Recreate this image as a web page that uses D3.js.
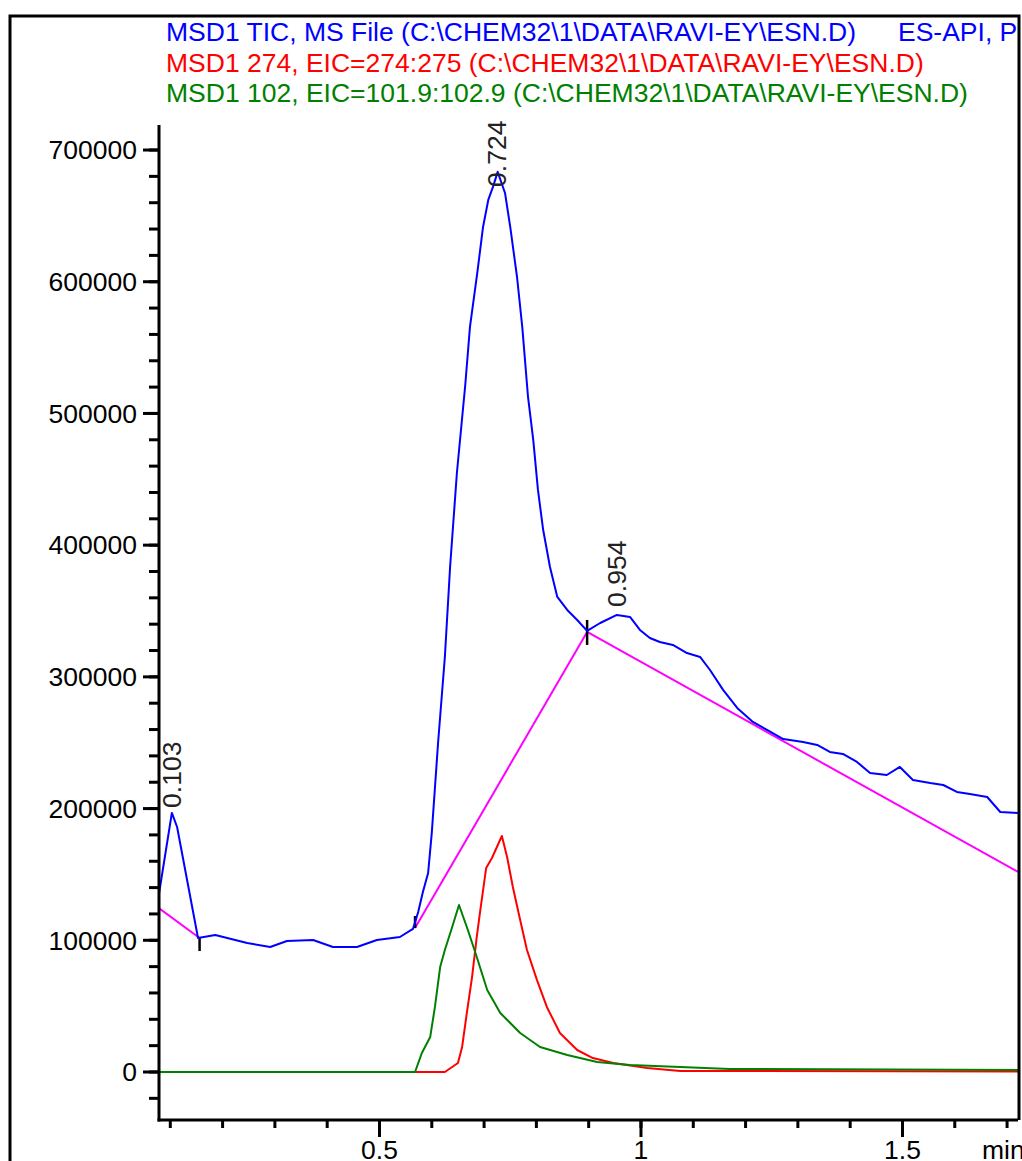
<!DOCTYPE html>
<html>
<head>
<meta charset="utf-8">
<script src="https://cdn.jsdelivr.net/npm/d3@7"></script>
<style>
  body { margin: 0; background: #fff; }
  svg { display: block; }
  text { font-family: "Liberation Sans", Arial, sans-serif; font-size: 26.5px; }
</style>
</head>
<body>
<script>
// traces: [time (min), abundance]
var tic = [[0.078,134400],[0.103,196700],[0.113,186000],[0.153,101700],[0.186,104000],[0.247,97900],
  [0.291,94900],[0.323,99500],[0.373,100200],[0.411,94900],[0.457,94900],[0.495,100200],[0.539,102500],
  [0.564,108600],[0.574,121500],[0.583,136700],[0.593,151100],[0.600,181500],[0.612,249800],[0.625,315100],
  [0.635,383400],[0.648,454800],[0.664,521600],[0.673,565700],[0.687,606700],[0.698,641600],[0.708,662100],
  [0.717,672000],[0.726,683400],[0.740,667400],[0.750,641600],[0.763,603600],[0.773,565700],[0.784,512500],
  [0.794,479900],[0.803,441900],[0.813,411500],[0.826,383400],[0.840,360700],[0.859,350800],[0.878,343200],
  [0.897,334900],[0.922,340900],[0.954,347000],[0.979,345500],[0.998,335600],[1.017,329500],[1.036,326500],
  [1.061,324200],[1.088,318100],[1.113,315100],[1.132,305200],[1.157,290100],[1.184,276400],[1.214,265800],
  [1.241,259700],[1.272,252800],[1.310,250600],[1.337,248300],[1.361,243000],[1.386,241500],[1.413,235400],
  [1.438,227000],[1.470,225500],[1.495,231600],[1.520,221700],[1.553,219400],[1.578,217900],[1.604,212600],
  [1.629,211100],[1.662,208800],[1.687,197400],[1.721,196700]];

var eic274 = [[0.078,0],[0.625,0],[0.650,6800],[0.658,19000],[0.667,44800],[0.677,72100],[0.686,102500],
  [0.692,120700],[0.704,154900],[0.715,162500],[0.734,179200],[0.744,163200],[0.755,140500],[0.769,115400],
  [0.782,92600],[0.801,69900],[0.820,49400],[0.845,29600],[0.878,16700],[0.908,10600],[0.947,6800],
  [1.012,3000],[1.075,800],[1.721,300]];

var eic102 = [[0.078,0],[0.568,0],[0.581,14400],[0.597,26600],[0.606,49400],[0.616,79700],[0.625,92600],
  [0.639,110100],[0.652,126800],[0.669,107800],[0.686,87300],[0.706,62300],[0.731,44800],[0.769,29600],
  [0.807,19000],[0.859,12900],[0.916,7600],[0.979,5300],[1.075,3800],[1.170,2300],[1.721,1500]];

// integration baselines, [start, end] as [time, abundance]
var baselines = [
  [[0.078,124500],[0.156,101700]],
  [[0.568,109300],[0.897,334100]],
  [[0.897,334100],[1.721,151900]]
];

// peak labels: retention time and the abundance where the label sits
var peakTimes = [0.103, 0.724, 0.954];
var peakLabelAt = [196700, 668200, 349300];

var titleLines = [
  "MSD1 TIC, MS File (C:\\CHEM32\\1\\DATA\\RAVI-EY\\ESN.D)",
  "MSD1 274, EIC=274:275 (C:\\CHEM32\\1\\DATA\\RAVI-EY\\ESN.D)",
  "MSD1 102, EIC=101.9:102.9 (C:\\CHEM32\\1\\DATA\\RAVI-EY\\ESN.D)"
];
var titleExtra = "ES-API, Pos, Scan, Frag: 70";
var titleColors = ["#0000ff", "#ff0000", "#008000"];

var yMajor = [0, 100000, 200000, 300000, 400000, 500000, 600000, 700000];
var yMinor = d3.range(-20000, 700001, 20000);
var xMajor = [0.5, 1, 1.5];
var xMinor = d3.range(1, 18).map(function(d){ return d / 10; });

var width = 1022, height = 1161;
var plotL = 159, plotR = 1018, plotT = 125, plotB = 1120;

var svg = d3.select("body").append("svg")
  .attr("width", width)
  .attr("height", height);

var x = d3.scaleLinear().domain([0.0784, 1.7209]).range([plotL, plotR]);
var y = d3.scaleLinear().domain([-36450, 719000]).range([plotB, plotT]);

svg.append("clipPath").attr("id", "plot")
  .append("rect").attr("x", plotL).attr("y", 0).attr("width", plotR - plotL).attr("height", plotB);

// titles
titleLines.forEach(function(t, i){
  svg.append("text")
    .attr("x", 166)
    .attr("y", 41 + i * 30.5)
    .attr("fill", titleColors[i])
    .text(t);
});
svg.append("g").attr("clip-path", "url(#plot)")
  .append("text")
  .attr("x", 898)
  .attr("y", 41)
  .attr("fill", titleColors[0])
  .text(titleExtra);

var line = d3.line()
  .x(function(d){ return x(d[0]); })
  .y(function(d){ return y(d[1]); });

var plot = svg.append("g").attr("clip-path", "url(#plot)");

plot.selectAll("path.base")
  .data(baselines)
  .enter()
  .append("path")
  .attr("class", "base")
  .attr("d", line)
  .attr("fill", "none")
  .attr("stroke", "#ff00ff")
  .attr("stroke-width", 2);

// baseline event ticks: start marks up, end marks down
plot.selectAll("line.start")
  .data(baselines.slice(1))
  .enter()
  .append("line")
  .attr("x1", function(d){ return x(d[0][0]); })
  .attr("x2", function(d){ return x(d[0][0]); })
  .attr("y1", function(d){ return y(d[0][1]); })
  .attr("y2", function(d){ return y(d[0][1]) - 12; })
  .attr("stroke", "#000")
  .attr("stroke-width", 2.5);

plot.selectAll("line.end")
  .data(baselines.slice(0, -1))
  .enter()
  .append("line")
  .attr("x1", function(d){ return x(d[1][0]); })
  .attr("x2", function(d){ return x(d[1][0]); })
  .attr("y1", function(d){ return y(d[1][1]); })
  .attr("y2", function(d){ return y(d[1][1]) + 13; })
  .attr("stroke", "#000")
  .attr("stroke-width", 2.5);

[[eic274, "#ff0000"], [eic102, "#008000"], [tic, "#0000ff"]].forEach(function(s){
  plot.append("path")
    .datum(s[0])
    .attr("d", line)
    .attr("fill", "none")
    .attr("stroke", s[1])
    .attr("stroke-width", 2)
    .attr("stroke-linejoin", "round");
});

// peak labels, rotated
svg.selectAll("text.peak")
  .data(peakTimes)
  .enter()
  .append("text")
  .attr("class", "peak")
  .attr("transform", function(d, i){
    return "translate(" + x(d) + "," + (y(peakLabelAt[i]) - 5) + ") rotate(-90)";
  })
  .attr("dy", "0.35em")
  .attr("fill", "#222")
  .text(function(d){ return d3.format(".3f")(d); });

// y axis
svg.append("line")
  .attr("x1", plotL).attr("x2", plotL)
  .attr("y1", plotT).attr("y2", plotB + 1.5)
  .attr("stroke", "#000").attr("stroke-width", 3);

svg.selectAll("line.ymin")
  .data(yMinor)
  .enter()
  .append("line")
  .attr("x1", plotL - 10).attr("x2", plotL)
  .attr("y1", function(d){ return y(d); })
  .attr("y2", function(d){ return y(d); })
  .attr("stroke", "#000").attr("stroke-width", 3);

svg.selectAll("line.ymaj")
  .data(yMajor)
  .enter()
  .append("line")
  .attr("x1", plotL - 16).attr("x2", plotL)
  .attr("y1", function(d){ return y(d); })
  .attr("y2", function(d){ return y(d); })
  .attr("stroke", "#000").attr("stroke-width", 3);

svg.selectAll("text.ylab")
  .data(yMajor)
  .enter()
  .append("text")
  .attr("x", 137)
  .attr("y", function(d){ return y(d); })
  .attr("dy", "0.35em")
  .attr("text-anchor", "end")
  .attr("fill", "#000")
  .text(function(d){ return d; });

// x axis
svg.append("line")
  .attr("x1", plotL - 1.5).attr("x2", plotR)
  .attr("y1", plotB).attr("y2", plotB)
  .attr("stroke", "#000").attr("stroke-width", 3);

svg.selectAll("line.xmin")
  .data(xMinor)
  .enter()
  .append("line")
  .attr("x1", function(d){ return x(d); })
  .attr("x2", function(d){ return x(d); })
  .attr("y1", plotB).attr("y2", plotB + 8)
  .attr("stroke", "#000").attr("stroke-width", 3);

svg.selectAll("line.xmaj")
  .data(xMajor)
  .enter()
  .append("line")
  .attr("x1", function(d){ return x(d); })
  .attr("x2", function(d){ return x(d); })
  .attr("y1", plotB).attr("y2", plotB + 17)
  .attr("stroke", "#000").attr("stroke-width", 3);

svg.selectAll("text.xlab")
  .data(xMajor)
  .enter()
  .append("text")
  .attr("x", function(d){ return x(d); })
  .attr("y", 1159)
  .attr("text-anchor", "middle")
  .attr("fill", "#000")
  .text(function(d){ return d; });

svg.append("text")
  .attr("x", 982)
  .attr("y", 1159)
  .attr("fill", "#000")
  .text("min");

// outer frame
svg.append("path")
  .attr("d", "M10,1161 V16 H" + (plotR + 1) + " V" + plotB)
  .attr("fill", "none")
  .attr("stroke", "#000")
  .attr("stroke-width", 3);
</script>
</body>
</html>
